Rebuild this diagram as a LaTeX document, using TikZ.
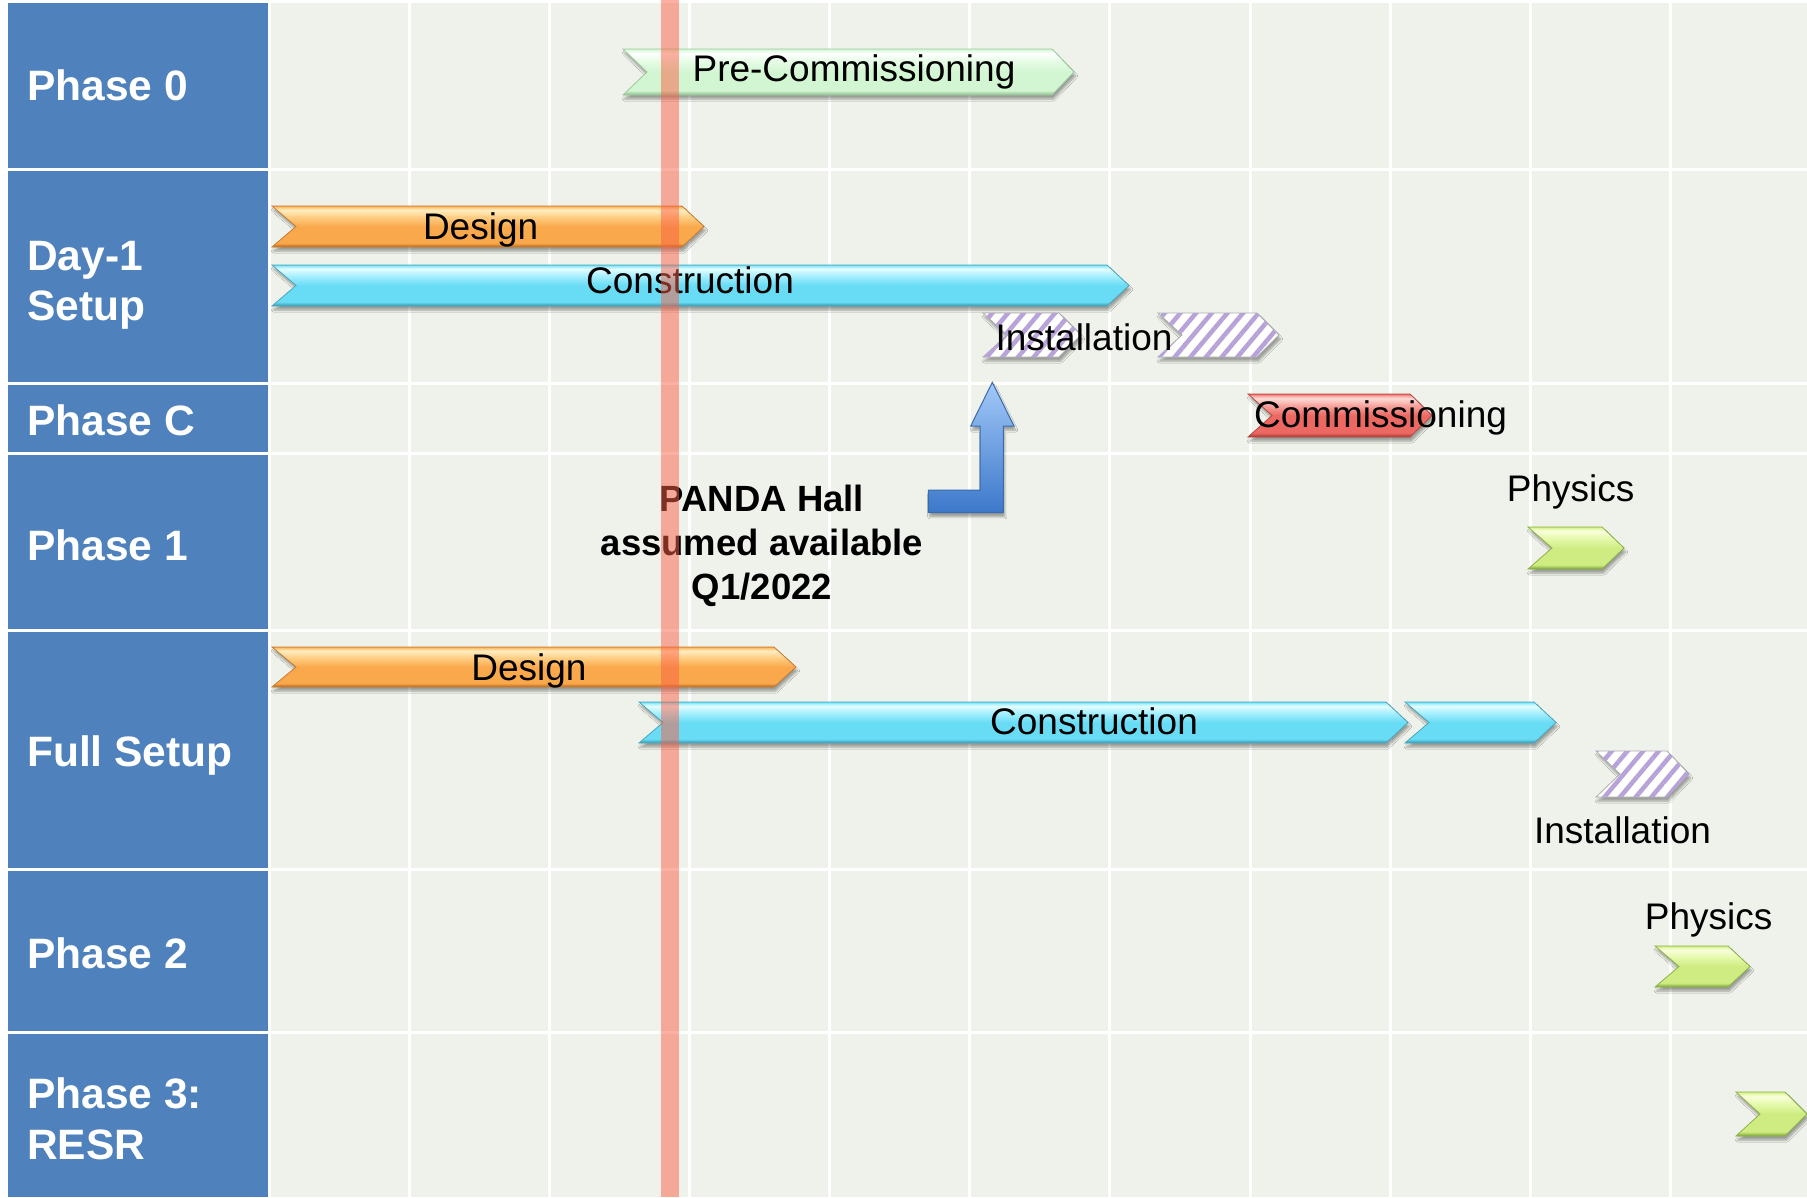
\documentclass[tikz,border=0pt]{standalone}
\usepackage{fontspec}
\setmainfont{Liberation Sans}
\usetikzlibrary{shadows.blur,patterns.meta}

% table colours
\definecolor{cellblue}{HTML}{4F81BD}
\definecolor{gridbg}{HTML}{EFF2EA}
\definecolor{bandred}{RGB}{250,96,70}
\definecolor{lav}{HTML}{B8A2DA}
\definecolor{arrowL}{HTML}{A2C8F8}
\definecolor{arrowD}{HTML}{3C78CA}
\definecolor{arrowE}{HTML}{3A6BAE}

% bar colour families: dark edge, body, light top, highlight
\definecolor{oD}{HTML}{B8671C}\definecolor{oM}{HTML}{F9A94C}\definecolor{oL}{HTML}{FFCF86}\definecolor{oW}{HTML}{FFEDC0}\definecolor{oE}{HTML}{C87A30}
\definecolor{cD}{HTML}{3497B0}\definecolor{cM}{HTML}{68DCF4}\definecolor{cL}{HTML}{A8F0FF}\definecolor{cW}{HTML}{E4FDFF}\definecolor{cE}{HTML}{4AA6BE}
\definecolor{gD}{HTML}{8DBE8D}\definecolor{gM}{HTML}{D2F5D2}\definecolor{gL}{HTML}{E6FCE6}\definecolor{gW}{HTML}{FFFFFF}\definecolor{gE}{HTML}{9CC99C}
\definecolor{rD}{HTML}{A83630}\definecolor{rM}{HTML}{EC6862}\definecolor{rL}{HTML}{F7A6A0}\definecolor{rW}{HTML}{FFDAD6}\definecolor{rE}{HTML}{B84842}
\definecolor{pD}{HTML}{7BA436}\definecolor{pM}{HTML}{CFEC82}\definecolor{pL}{HTML}{E6FAAE}\definecolor{pW}{HTML}{F9FFDC}\definecolor{pE}{HTML}{8CB248}

\pgfdeclareverticalshading{orangeshade}{100bp}{color(0bp)=(oD); color(25bp)=(oD); color(30bp)=(oM); color(50bp)=(oM); color(62bp)=(oL); color(70bp)=(oW); color(73bp)=(oL); color(75bp)=(oM); color(100bp)=(oM)}
\pgfdeclareverticalshading{cyanshade}{100bp}{color(0bp)=(cD); color(25bp)=(cD); color(30bp)=(cM); color(50bp)=(cM); color(62bp)=(cL); color(70bp)=(cW); color(73bp)=(cL); color(75bp)=(cM); color(100bp)=(cM)}
\pgfdeclareverticalshading{mintshade}{100bp}{color(0bp)=(gD); color(25bp)=(gD); color(30bp)=(gM); color(50bp)=(gM); color(62bp)=(gL); color(70bp)=(gW); color(73bp)=(gL); color(75bp)=(gM); color(100bp)=(gM)}
\pgfdeclareverticalshading{redshade}{100bp}{color(0bp)=(rD); color(25bp)=(rD); color(30bp)=(rM); color(50bp)=(rM); color(62bp)=(rL); color(70bp)=(rW); color(73bp)=(rL); color(75bp)=(rM); color(100bp)=(rM)}
\pgfdeclareverticalshading{limeshade}{100bp}{color(0bp)=(pD); color(25bp)=(pD); color(30bp)=(pM); color(50bp)=(pM); color(62bp)=(pL); color(70bp)=(pW); color(73bp)=(pL); color(75bp)=(pM); color(100bp)=(pM)}

% chevron bar: style, left x, tip x, top y, bottom y
\newcommand\chevbar[5]{%
  \path[#1] (#2,#4) -- ({#3-22},#4) -- (#3,{(#4+#5)/2}) -- ({#3-22},#5)
    -- (#2,#5) -- ({#2+24},{(#4+#5)/2}) -- cycle;}

\tikzset{
  barshadow/.style={blur shadow={shadow xshift=1.5pt, shadow yshift=-4pt,
      shadow opacity=35, shadow blur steps=6}},
  orangebar/.style={barshadow, shade, shading=orangeshade, draw=oE, line width=0.8pt},
  cyanbar/.style={barshadow, shade, shading=cyanshade, draw=cE, line width=0.8pt},
  mintbar/.style={barshadow, shade, shading=mintshade, draw=gE, line width=0.8pt},
  redbar/.style={barshadow, shade, shading=redshade, draw=rE, line width=0.8pt},
  limebar/.style={barshadow, shade, shading=limeshade, draw=pE, line width=0.8pt},
  hatchbar/.style={barshadow, fill=white, draw=gray!65, line width=0.8pt,
      postaction={pattern={Lines[angle=50,distance=12pt,line width=4.5pt]}, pattern color=lav}},
  phaselbl/.style={anchor=base west, inner sep=0pt, text=white,
      font=\fontsize{42.5}{50}\selectfont\bfseries},
  bartxt/.style={anchor=base, inner sep=0pt, font=\fontsize{37}{44}\selectfont},
  halltxt/.style={anchor=base, inner sep=0pt, font=\fontsize{36.5}{44}\selectfont\bfseries},
}

\begin{document}
\begin{tikzpicture}[x=1pt,y=-1pt]
\useasboundingbox (0,0) rectangle (1807,1197);
\fill[white] (0,0) rectangle (1807,1197);

% table rows: label cells and timeline cells
\foreach \ya/\yb in {3/168,171/382,385/452,455/629,632/868,871/1031,1034/1197}{
  \fill[cellblue] (8,\ya) rectangle (268,\yb);
  \fill[gridbg] (271,\ya) rectangle (1807,\yb);
}
% vertical grid lines
\foreach \k in {0,...,9}{
  \fill[white] ({409.3+140.12*\k-1.5},0) rectangle ({409.3+140.12*\k+1.5},1197);
}

% row labels
\node[phaselbl] (lbl0)  at (27,100.7) {Phase 0};
\node[phaselbl] (lbl1a) at (27,270)   {Day-1};
\node[phaselbl] (lbl1b) at (27,320)   {Setup};
\node[phaselbl] (lblC)  at (27,435)   {Phase C};
\node[phaselbl] (lbl1)  at (27,560)   {Phase 1};
\node[phaselbl] (lblF)  at (27,766.7) {Full Setup};
\node[phaselbl] (lbl2)  at (27,968.3) {Phase 2};
\node[phaselbl] (lbl3a) at (27,1108.3){Phase 3:};
\node[phaselbl] (lbl3b) at (27,1159.3){RESR};

% bars
\chevbar{mintbar}{623}{1074}{49}{95}
\chevbar{orangebar}{272}{704}{206}{247}
\chevbar{cyanbar}{272}{1129}{265}{306}
\chevbar{hatchbar}{983}{1081}{313}{357}
\chevbar{hatchbar}{1158}{1279}{313}{357}
\chevbar{redbar}{1248}{1432}{394}{437}
\chevbar{limebar}{1528}{1624}{527}{569}
\chevbar{orangebar}{272}{796}{647}{687}
\chevbar{cyanbar}{639}{1408}{702}{743}
\chevbar{cyanbar}{1405}{1556}{702}{743}
\chevbar{hatchbar}{1596}{1689}{751}{797}
\chevbar{limebar}{1655}{1750}{946}{987}
\chevbar{limebar}{1736}{1807}{1092}{1136}

% bar captions
\node[bartxt] (tPre)  at (854,81.7)   {Pre-Commissioning};
\node[bartxt] (tDes1) at (480.6,239.3){Design};
\node[bartxt] (tCon1) at (690,293)    {Construction};
\node[bartxt] (tIns1) at (1084,350)   {Installation};
\node[bartxt] (tCom)  at (1380.5,427) {Commissioning};
\node[bartxt] (tPhy1) at (1570.7,501.7){Physics};
\node[bartxt] (tDes2) at (529,680)    {Design};
\node[bartxt] (tCon2) at (1094,734)   {Construction};
\node[bartxt] (tIns2) at (1622.5,843) {Installation};
\node[bartxt] (tPhy2) at (1708.7,929) {Physics};

% hall availability note
\node[halltxt] (hallA) at (762,511.5) {PANDA Hall};
\node[halltxt] (hallB) at (762,555)   {assumed available};
\node[halltxt] (hallC) at (762,599.5) {Q1/2022};

% bent arrow pointing up to the installation
\path[barshadow, top color=arrowL, bottom color=arrowD, draw=arrowE, line width=1pt]
  (928.3,490) -- (980,490) -- (980,426) -- (970.7,426) -- (992.3,382.3)
  -- (1014,426) -- (1003.3,426) -- (1003.3,512.7) -- (928.3,512.7) -- cycle;

% date marker band
\fill[bandred, opacity=0.5] (661,0) rectangle (679,1197);
\end{tikzpicture}
\end{document}
